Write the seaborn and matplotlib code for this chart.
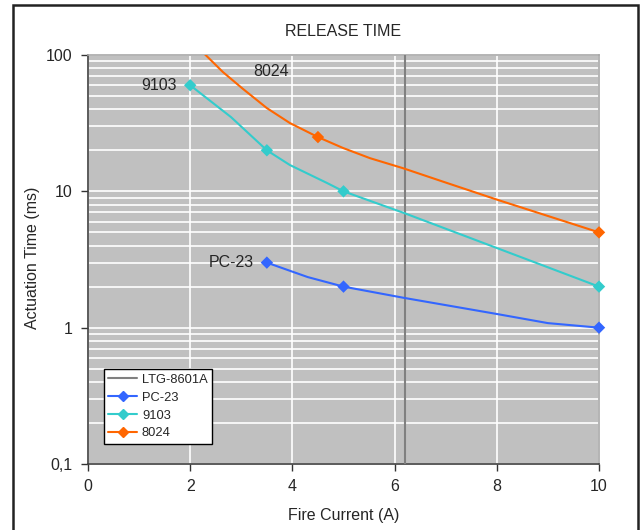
import numpy as np
import pandas as pd
import matplotlib
matplotlib.use("Agg")
import matplotlib.pyplot as plt
import matplotlib.patches as mpatches
from matplotlib.lines import Line2D
from matplotlib.ticker import LogLocator, FixedLocator, NullFormatter
import seaborn as sns

# ---- data ----
pc23_x = [3.5, 4.3, 5, 6.2, 8, 9, 10]
pc23_y = [3.0, 2.35, 2.0, 1.65, 1.26, 1.08, 1.0]
pc23_mx = [3.5, 5, 10]
pc23_my = [3.0, 2.0, 1.0]

s9103_x = [2, 2.8, 3.5, 3.95, 4.68, 5, 6.2, 8, 10]
s9103_y = [60, 35, 20, 15.6, 11.5, 10, 6.9, 3.84, 2.0]
s9103_mx = [2, 3.5, 5, 10]
s9103_my = [60, 20, 10, 2.0]

s8024_x = [2.0, 2.2, 2.64, 3.03, 3.5, 3.95, 4.5, 4.99, 5.52, 6.16, 7.0, 8.0, 10]
s8024_y = [135, 109, 75, 56.5, 40.8, 31.7, 25, 20.8, 17.5, 14.8, 11.6, 8.7, 5.0]
s8024_mx = [4.5, 10]
s8024_my = [25, 5.0]

ltg_x = [6.2, 6.2]
ltg_y = [0.1, 100]

series = ["LTG-8601A", "PC-23", "9103", "8024"]
colors = {"LTG-8601A": "#808080", "PC-23": "#3366FF", "9103": "#33CCCC", "8024": "#FF6600"}

lines = pd.concat([
    pd.DataFrame({"x": ltg_x, "y": ltg_y, "s": "LTG-8601A"}),
    pd.DataFrame({"x": pc23_x, "y": pc23_y, "s": "PC-23"}),
    pd.DataFrame({"x": s9103_x, "y": s9103_y, "s": "9103"}),
    pd.DataFrame({"x": s8024_x, "y": s8024_y, "s": "8024"}),
])
marks = pd.concat([
    pd.DataFrame({"x": pc23_mx, "y": pc23_my, "s": "PC-23"}),
    pd.DataFrame({"x": s9103_mx, "y": s9103_my, "s": "9103"}),
    pd.DataFrame({"x": s8024_mx, "y": s8024_my, "s": "8024"}),
])

sns.set_style("white")
plt.rcParams["font.family"] = ["Liberation Sans", "DejaVu Sans"]

fig = plt.figure(figsize=(6.43, 5.30), dpi=100)
ax = fig.add_axes([88/643, 1-464/530, 511/643, 409/530])
ax.set_facecolor("#C0C0C0")
ax.set_yscale("log")
ax.set_xlim(0, 10)
ax.set_ylim(0.1, 100)

# grid
ax.yaxis.set_major_locator(FixedLocator([0.1, 1, 10, 100]))
ax.yaxis.set_minor_locator(LogLocator(base=10, subs=np.arange(2, 10)))
ax.yaxis.set_minor_formatter(NullFormatter())
ax.set_yticks([0.1, 1, 10, 100])
ax.set_yticklabels(["0,1", "1", "10", "100"])
ax.set_xticks([0, 2, 4, 6, 8, 10])
ax.grid(True, which="both", axis="y", color="white", linewidth=1.2)
ax.grid(True, which="major", axis="x", color="white", linewidth=1.2)
ax.set_axisbelow(True)

sns.lineplot(data=lines, x="x", y="y", hue="s", palette=colors, ax=ax,
             legend=False, sort=False, estimator=None, linewidth=1.5, zorder=3)
sns.scatterplot(data=marks, x="x", y="y", hue="s", palette=colors, ax=ax,
                legend=False, marker="D", s=40, edgecolor="none", zorder=4, clip_on=False)

ax.tick_params(axis="both", which="major", direction="out", length=5, width=1,
               color="#333333", labelsize=11.5, pad=6, left=True, bottom=True)
ax.tick_params(axis="y", which="minor", left=False)
for side in ["left", "bottom"]:
    ax.spines[side].set_color("#404040")
    ax.spines[side].set_linewidth(1.2)
for side in ["top", "right"]:
    ax.spines[side].set_color("#A8A8A8")
    ax.spines[side].set_linewidth(1.2)

ax.set_xlabel("Fire Current (A)", fontsize=11.5, labelpad=10)
ax.set_ylabel("Actuation Time (ms)", fontsize=11.5)
ax.yaxis.set_label_coords(-0.094, 0.505)
ax.set_title("RELEASE TIME", fontsize=11.5, pad=14)

ax.text(1.74, 60, "9103", fontsize=11.5, ha="right", va="center")
ax.text(3.23, 76, "8024", fontsize=11.5, ha="left", va="center")
ax.text(3.25, 3.0, "PC-23", fontsize=11.5, ha="right", va="center")

handles = [
    Line2D([], [], color=colors["LTG-8601A"], linewidth=1.5),
    Line2D([], [], color=colors["PC-23"], linewidth=1.5, marker="D", markersize=5),
    Line2D([], [], color=colors["9103"], linewidth=1.5, marker="D", markersize=5),
    Line2D([], [], color=colors["8024"], linewidth=1.5, marker="D", markersize=5),
]
leg = ax.legend(handles, series, loc="lower left", bbox_to_anchor=(0.031, 0.049),
                fontsize=9.3, frameon=True, fancybox=False, framealpha=1,
                edgecolor="black", borderpad=0.35, handlelength=2.2,
                labelspacing=0.45, handletextpad=0.4, borderaxespad=0)
leg.get_frame().set_linewidth(1.0)

fig.patches.append(mpatches.Rectangle((13/643, -0.05), (638-13)/643, 1.05-5/530,
                                      transform=fig.transFigure, fill=False,
                                      edgecolor="#222222", linewidth=1.8))

fig.savefig("out.png", dpi=100)
